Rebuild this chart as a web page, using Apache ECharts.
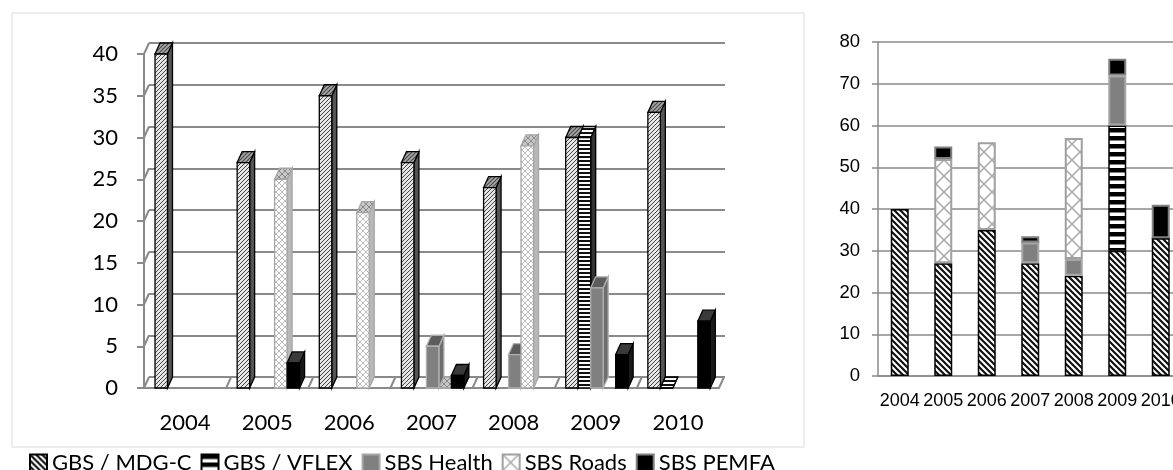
<!DOCTYPE html>
<html>
<head>
<meta charset="utf-8">
<script src="https://cdn.jsdelivr.net/npm/echarts@6/dist/echarts.min.js"></script>
<style>
  html, body { margin: 0; padding: 0; background: #fff; }
  #main { width: 1173px; height: 470px; }
</style>
</head>
<body>
<div id="main"></div>
<script>
// data
const years = ['2004', '2005', '2006', '2007', '2008', '2009', '2010'];
const names = ['GBS / MDG-C', 'GBS / VFLEX', 'SBS Health', 'SBS Roads', 'SBS PEMFA'];
const mdgC   = [40, 27, 35, 27, 24, 30, 33];
const vflex  = [null, null, null, null, null, 30, 0];
const health = [null, null, null, 5, 4, 12, null];
const roads  = [null, 25, 21, 0, 29, null, null];
const pemfa  = [null, 3, null, 1.5, null, 4, 8];
const leftTicks = [0, 40, 5];    // min, max, interval
const rightTicks = [0, 80, 10];
const leftTickValues = [0, 5, 10, 15, 20, 25, 30, 35, 40];

// fill patterns
function pat(w, h, draw) {
  const c = document.createElement('canvas');
  c.width = w; c.height = h;
  draw(c.getContext('2d'), w, h);
  return { image: c, repeat: 'repeat' };
}
function diag(g, s, dir) {
  g.beginPath();
  if (dir > 0) { // "/"
    g.moveTo(0, s); g.lineTo(s, 0);
    g.moveTo(-1, 1); g.lineTo(1, -1);
    g.moveTo(s - 1, s + 1); g.lineTo(s + 1, s - 1);
  } else { // "\"
    g.moveTo(0, 0); g.lineTo(s, s);
    g.moveTo(-1, s - 1); g.lineTo(1, s + 1);
    g.moveTo(s - 1, -1); g.lineTo(s + 1, 1);
  }
  g.stroke();
}
const fineHatch = pat(4, 4, (g, w) => { g.fillStyle = '#e6e6e6'; g.fillRect(0, 0, w, w); g.strokeStyle = '#444'; g.lineWidth = 1; diag(g, w, 1); });
const darkHatch = pat(4, 4, (g, w) => { g.fillStyle = '#a8a8a8'; g.fillRect(0, 0, w, w); g.strokeStyle = '#444'; g.lineWidth = 1.1; diag(g, w, 1); });
const boldHatch = pat(6, 6, (g, w) => { g.fillStyle = '#fff'; g.fillRect(0, 0, w, w); g.strokeStyle = '#111'; g.lineWidth = 2.2; diag(g, w, -1); });
const fineStripe = pat(4, 4, (g) => { g.fillStyle = '#fff'; g.fillRect(0, 0, 4, 4); g.fillStyle = '#111'; g.fillRect(0, 0, 4, 2); });
const boldStripe = pat(8, 8, (g) => { g.fillStyle = '#fff'; g.fillRect(0, 0, 8, 8); g.fillStyle = '#000'; g.fillRect(0, 0, 8, 4.5); });
const fineCross = pat(6, 6, (g, w) => { g.fillStyle = '#fff'; g.fillRect(0, 0, w, w); g.strokeStyle = '#bdbdbd'; g.lineWidth = 1; diag(g, w, 1); diag(g, w, -1); });
const greyCross = pat(6, 6, (g, w) => { g.fillStyle = '#c8c8c8'; g.fillRect(0, 0, w, w); g.strokeStyle = '#888'; g.lineWidth = 1; diag(g, w, 1); diag(g, w, -1); });
const bigCross = pat(16, 16, (g, w) => { g.fillStyle = '#fff'; g.fillRect(0, 0, w, w); g.strokeStyle = '#a8a8a8'; g.lineWidth = 1.5; diag(g, w, 1); diag(g, w, -1); });

// 3D faces for the left chart
const faces = [
  { front: fineHatch, side: '#555', top: darkHatch, stroke: '#000' },
  { front: fineStripe, side: '#333', top: fineStripe, stroke: '#000' },
  { front: '#808080', side: '#6e6e6e', top: '#5c5c5c', stroke: '#b0b0b0' },
  { front: fineCross, side: '#b8b8b8', top: greyCross, stroke: '#a6a6a6' },
  { front: '#000', side: '#1a1a1a', top: '#3a3a3a', stroke: '#000' }
];
const dx = 5, dy = 11;
const grey = '#8a8a8a';
const arial = 'Liberation Sans, Arial, sans-serif';

function render3d(i) {
  return function (params, api) {
    const v = api.value(1);
    if (isNaN(v)) return;
    const base = api.coord([api.value(0), 0]);
    const top = api.coord([api.value(0), v]);
    const band = api.size([1, 0])[0];
    const w = band * 0.152;
    const x0 = base[0] - band / 2 + band * 0.134 + i * w;
    const f = faces[i];
    const st = (fill) => ({ fill: fill, stroke: f.stroke, lineWidth: 1.3 });
    return {
      type: 'group',
      children: [
        { type: 'polygon', shape: { points: [[x0 + w, top[1]], [x0 + w + dx, top[1] - dy], [x0 + w + dx, base[1] - dy], [x0 + w, base[1]]] }, style: st(f.side) },
        { type: 'polygon', shape: { points: [[x0, top[1]], [x0 + dx, top[1] - dy], [x0 + w + dx, top[1] - dy], [x0 + w, top[1]]] }, style: st(f.top) },
        { type: 'rect', shape: { x: x0, y: top[1], width: w, height: base[1] - top[1] }, style: st(f.front) }
      ]
    };
  };
}

// wall and floor edges of the 3D box (from the front y ticks / category bounds)
function renderWall(params, api) {
  const cs = params.coordSys;
  const y = api.coord([0, api.value(1)])[1];
  return { type: 'line', shape: { x1: cs.x, y1: y, x2: cs.x + dx, y2: y - dy }, style: { stroke: grey, lineWidth: 2 } };
}
function renderFloor(params, api) {
  const cs = params.coordSys;
  const band = api.size([1, 0])[0];
  const x = api.coord([api.value(0), 0])[0] + band / 2;
  return { type: 'line', shape: { x1: x, y1: cs.y + cs.height, x2: x + dx, y2: cs.y + cs.height - dy }, style: { stroke: grey, lineWidth: 2 } };
}

const values = [mdgC, vflex, health, roads, pemfa];
const rightStyles = [
  { color: boldHatch, borderColor: '#000', borderWidth: 1.5 },
  { color: boldStripe, borderColor: '#000', borderWidth: 1.5 },
  { color: '#808080', borderColor: '#a6a6a6', borderWidth: 2 },
  { color: bigCross, borderColor: '#a0a0a0', borderWidth: 2 },
  { color: '#000', borderColor: '#808080', borderWidth: 2 }
];

const series = [];
names.forEach((n, i) => {
  series.push({
    name: n, type: 'bar', stack: 'total', xAxisIndex: 2, yAxisIndex: 2,
    barWidth: 18, itemStyle: rightStyles[i], data: values[i]
  });
});
series.push({
  type: 'custom', xAxisIndex: 0, yAxisIndex: 0, silent: true, z: 1,
  renderItem: renderWall, data: leftTickValues.map(v => [0, v])
});
series.push({
  type: 'custom', xAxisIndex: 0, yAxisIndex: 0, silent: true, z: 1,
  renderItem: renderFloor, data: years.map((y, k) => [k, 0])
});
names.forEach((n, i) => {
  series.push({
    name: n, type: 'custom', xAxisIndex: 0, yAxisIndex: 0, z: 3,
    renderItem: render3d(i),
    data: values[i].map((v, k) => [k, v]).filter(d => d[1] !== null)
  });
});

const chart = echarts.init(document.getElementById('main'));
chart.setOption({
  animation: false,
  graphic: [
    { type: 'text', x: 12, y: -24, style: { text: 'Figure 5: Disbursements of budget support per type (EUR million) by partner (per year) and total (figure right)', font: 'italic 24px Lato', fill: '#000' } },
    { type: 'rect', z: -1, shape: { x: 12, y: 13, width: 792, height: 434 }, style: { fill: 'none', stroke: '#d9d9d9', lineWidth: 1 } }
  ],
  legend: {
    left: 24, top: 447, itemWidth: 17, itemHeight: 17, itemGap: 9,
    icon: 'rect',
    data: names,
    textStyle: { fontFamily: 'Lato', fontSize: 22, color: '#000' }
  },
  grid: [
    { left: 144, top: 54, width: 575, height: 334, outerBoundsMode: 'none' },
    { left: 149, top: 43, width: 576, height: 334, outerBoundsMode: 'none' },
    { left: 878, top: 42, width: 304.5, height: 334, outerBoundsMode: 'none' }
  ],
  xAxis: [
    { gridIndex: 0, type: 'category', data: years,
      axisLine: { lineStyle: { color: grey, width: 2 } },
      axisTick: { length: 7, lineStyle: { color: grey, width: 2 } },
      axisLabel: { margin: 24, fontFamily: 'Lato', fontSize: 22, color: '#000' } },
    { gridIndex: 1, type: 'category', data: years, show: false },
    { gridIndex: 2, type: 'category', data: years,
      axisLine: { lineStyle: { color: grey, width: 1.5 } },
      axisTick: { length: 6, lineStyle: { color: grey, width: 1.5 } },
      axisLabel: { interval: 0, hideOverlap: false, margin: 16, fontFamily: arial, fontSize: 18, color: '#000' } }
  ],
  yAxis: [
    { gridIndex: 0, type: 'value', min: leftTicks[0], max: leftTicks[1], interval: leftTicks[2],
      axisLine: { show: true, lineStyle: { color: grey, width: 2 } },
      axisTick: { show: true, length: 7, lineStyle: { color: grey, width: 2 } },
      splitLine: { show: false },
      axisLabel: { margin: 26, fontFamily: 'Lato', fontSize: 22, color: '#000' } },
    { gridIndex: 1, type: 'value', min: leftTicks[0], max: leftTicks[1], interval: leftTicks[2],
      axisLine: { show: false }, axisTick: { show: false }, axisLabel: { show: false },
      splitLine: { lineStyle: { color: grey, width: 2 } } },
    { gridIndex: 2, type: 'value', min: rightTicks[0], max: rightTicks[1], interval: rightTicks[2],
      axisLine: { show: true, lineStyle: { color: grey, width: 1.5 } },
      axisTick: { show: true, length: 6, lineStyle: { color: grey, width: 1.5 } },
      splitLine: { lineStyle: { color: grey, width: 1.5 } },
      axisLabel: { margin: 18, fontFamily: arial, fontSize: 18.5, color: '#000' } }
  ],
  series: series
});
</script>
</body>
</html>
